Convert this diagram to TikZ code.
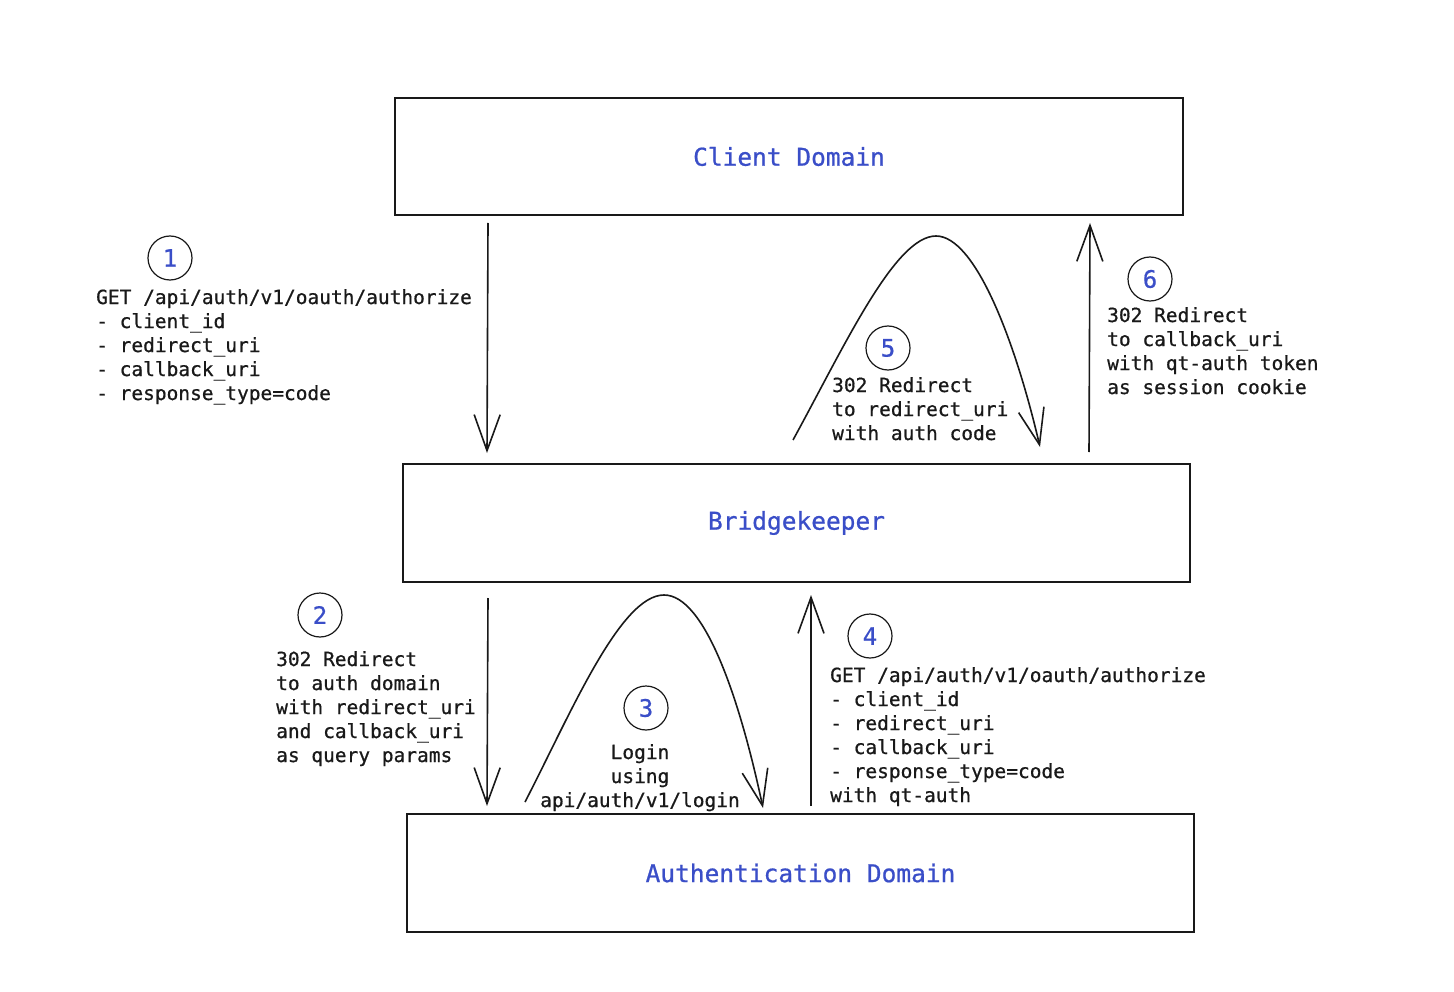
\documentclass[tikz,border=0pt]{standalone}
\usepackage{fontspec}
\setmonofont{DejaVu Sans Mono}[FakeBold=0.7]
\usetikzlibrary{arrows.meta}
\definecolor{excblue}{RGB}{58,78,200}
\definecolor{ink}{RGB}{25,25,25}
\begin{document}
\begin{tikzpicture}[x=1pt,y=-1pt,
  boxnode/.style={draw=ink, line width=1.7pt, inner sep=0pt, text=excblue,
    font=\fontsize{24.5}{28}\selectfont\ttfamily},
  numnode/.style={draw=ink, circle, minimum size=44pt, inner sep=0pt, line width=1.2pt,
    text=excblue, font=\fontsize{24}{24}\selectfont\ttfamily},
  lbl/.style={align=left, anchor=north west, inner sep=0pt, text=ink,
    font=\fontsize{19.5}{24}\selectfont\ttfamily},
  flow/.style={draw=ink, line width=1.6pt,
    -{Straight Barb[length=36pt,width=26pt,line width=1.6pt]}}]
\useasboundingbox (0,0) rectangle (1454,992);
\fill[white] (0,0) rectangle (1454,992);
% boxes
\node[boxnode, minimum width=788pt, minimum height=117pt] (client) at (789,156.5) {Client Domain};
\node[boxnode, minimum width=787pt, minimum height=118pt] (bridge) at (796.5,523) {Bridgekeeper};
\node[boxnode, minimum width=787pt, minimum height=118pt] (auth) at (800.5,873) {Authentication Domain};
% numbers
\node[numnode] (n1) at (170,258) {1};
\node[numnode] (n2) at (320,615) {2};
\node[numnode] (n3) at (646,708) {3};
\node[numnode] (n4) at (870,636) {4};
\node[numnode] (n5) at (888,348) {5};
\node[numnode] (n6) at (1150,279) {6};
% labels
\node[lbl] (t1) at (96,289) {GET /api/auth/v1/oauth/authorize\\- client\_id\\- redirect\_uri\\- callback\_uri\\- response\_type=code};
\node[lbl] (t2) at (276,651) {302 Redirect\\to auth domain\\with redirect\_uri\\and callback\_uri\\as query params};
\node[lbl, align=center, anchor=north] (t3) at (640,744) {Login\\using\\api/auth/v1/login};
\node[lbl] (t4) at (830,667) {GET /api/auth/v1/oauth/authorize\\- client\_id\\- redirect\_uri\\- callback\_uri\\- response\_type=code\\with qt-auth};
\node[lbl] (t5) at (832,377) {302 Redirect\\to redirect\_uri\\with auth code};
\node[lbl] (t6) at (1107,307) {302 Redirect\\to callback\_uri\\with qt-auth token\\as session cookie};
% connector end points
\coordinate (a1s) at (488,223);
\coordinate (a1e) at (487,453);
\coordinate (a2s) at (488,598);
\coordinate (a2e) at (487,806);
\coordinate (a3s) at (525,802);
\coordinate (a3p) at (664,595);
\coordinate (a3e) at (763,808);
\coordinate (a4s) at (811,806);
\coordinate (a4e) at (811,595);
\coordinate (a5s) at (793,440);
\coordinate (a5p) at (936,236);
\coordinate (a5e) at (1040,447);
\coordinate (a6s) at (1089,452);
\coordinate (a6e) at (1090,223);
% connectors
\draw[flow] (a1s) -- (a1e);
\draw[flow] (a2s) -- (a2e);
\draw[flow] (a3s) .. controls (570,715) and (620,595) .. (a3p) .. controls (705,595) and (740,700) .. (a3e);
\draw[flow] (a4s) -- (a4e);
\draw[flow] (a5s) .. controls (845,345) and (895,236) .. (a5p) .. controls (975,236) and (1015,340) .. (a5e);
\draw[flow] (a6s) -- (a6e);
\end{tikzpicture}
\end{document}
